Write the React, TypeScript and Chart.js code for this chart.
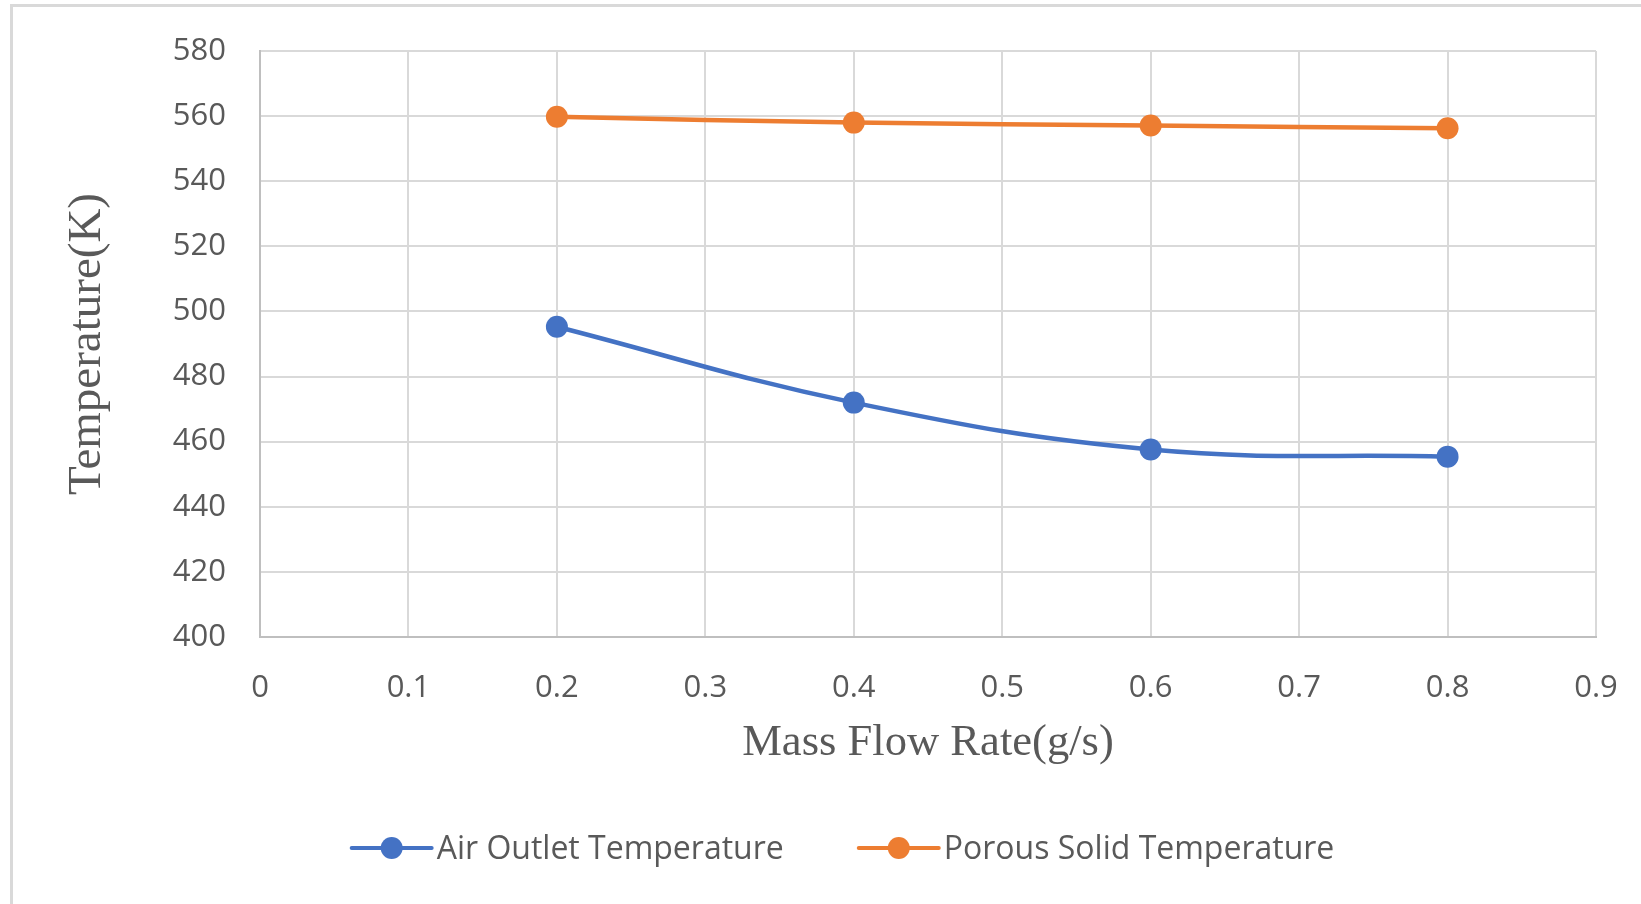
import React, { useEffect, useRef } from "react";
import { Chart, registerables } from "chart.js";

Chart.register(...registerables);

// ---- data ----
const massFlow = [0.2, 0.4, 0.6, 0.8];
const airOutlet = [495.3, 472.0, 457.6, 455.4];
const porousSolid = [559.8, 558.0, 557.1, 556.3];
const xTicks = [0, 0.1, 0.2, 0.3, 0.4, 0.5, 0.6, 0.7, 0.8, 0.9];
const yTicks = [400, 420, 440, 460, 480, 500, 520, 540, 560, 580];
const seriesNames = ["Air Outlet Temperature", "Porous Solid Temperature"];
const seriesColors = ["#4472C4", "#ED7D31"];
const xTitle = "Mass Flow Rate(g/s)";
const yTitle = "Temperature(K)";

const W = 1641;
const H = 904;
const TEXT = "#595959";
const GRID = "#d9d9d9";
const SANS = "'Open Sans'";
const SERIF = "'Liberation Serif'";

const legendPlugin = {
  id: "excelLegend",
  afterDraw(chart: any) {
    const ctx = chart.ctx as CanvasRenderingContext2D;
    const ds = chart.data.datasets;
    ctx.save();
    ctx.font = `32px ${SANS}`;
    const lineLen = 80;
    const gapText = 5;
    const gapItems = 75;
    const widths = ds.map((d: any) => ctx.measureText(d.label).width);
    const total =
      widths.reduce((a: number, w: number) => a + lineLen + gapText + w, 0) +
      gapItems * (ds.length - 1);
    let x = 843 - total / 2;
    const y = 848;
    ds.forEach((d: any, i: number) => {
      ctx.strokeStyle = d.borderColor;
      ctx.lineWidth = 4;
      ctx.lineCap = "round";
      ctx.beginPath();
      ctx.moveTo(x, y);
      ctx.lineTo(x + lineLen, y);
      ctx.stroke();
      ctx.fillStyle = d.pointBackgroundColor;
      ctx.beginPath();
      ctx.arc(x + lineLen / 2, y, 11, 0, Math.PI * 2);
      ctx.fill();
      ctx.fillStyle = TEXT;
      ctx.textBaseline = "middle";
      ctx.textAlign = "left";
      ctx.fillText(d.label, x + lineLen + gapText, y + 2);
      x += lineLen + gapText + widths[i] + gapItems;
    });
    ctx.restore();
  },
};

export default function App() {
  const ref = useRef<HTMLCanvasElement | null>(null);

  useEffect(() => {
    if (!ref.current) return;
    const series = [airOutlet, porousSolid];
    const chart = new Chart(ref.current, {
      type: "line",
      data: {
        datasets: series.map((vals, i) => ({
          label: seriesNames[i],
          data: massFlow.map((x, j) => ({ x, y: vals[j] })),
          borderColor: seriesColors[i],
          backgroundColor: seriesColors[i],
          pointBackgroundColor: seriesColors[i],
          pointBorderColor: seriesColors[i],
          pointBorderWidth: 0,
          pointRadius: 11,
          borderWidth: 4.5,
          tension: 0.4,
          fill: false,
        })),
      },
      options: {
        animation: false,
        responsive: false,
        devicePixelRatio: 1,
        layout: { padding: { top: 51, right: 45, left: 0, bottom: 0 } },
        plugins: { legend: { display: false }, tooltip: { enabled: false } },
        scales: {
          x: {
            type: "linear",
            min: 0,
            max: 0.9,
            afterBuildTicks: (s: any) => {
              s.ticks = xTicks.map((v) => ({ value: v }));
            },
            afterFit: (s: any) => {
              s.height = 267;
              s.paddingLeft = 0;
              s.paddingRight = 0;
            },
            grid: { color: GRID, lineWidth: 2, drawTicks: false },
            border: { color: "#bfbfbf", width: 2 },
            ticks: {
              padding: 33,
              color: TEXT,
              font: { family: SANS, size: 31 },
              callback: (v: any) => String(v),
              maxRotation: 0,
              autoSkip: false,
            },
            title: {
              display: true,
              text: xTitle,
              color: TEXT,
              font: { family: SERIF, size: 44.6 },
              padding: { top: 0, bottom: 134 },
            },
          },
          y: {
            type: "linear",
            min: 400,
            max: 580,
            afterBuildTicks: (s: any) => {
              s.ticks = yTicks.map((v) => ({ value: v }));
            },
            afterFit: (s: any) => {
              s.width = 260;
              s.paddingTop = 0;
              s.paddingBottom = 0;
            },
            grid: { color: GRID, lineWidth: 2, drawTicks: false },
            border: { color: "#bfbfbf", width: 2 },
            ticks: {
              padding: 34,
              color: TEXT,
              font: { family: SANS, size: 31 },
              callback: (v: any) => String(v),
              autoSkip: false,
            },
            title: {
              display: true,
              text: yTitle,
              color: TEXT,
              font: { family: SERIF, size: 47 },
              padding: { top: 59, bottom: 0 },
            },
          },
        },
      },
      plugins: [legendPlugin],
    });
    return () => chart.destroy();
  }, []);

  return (
    <div
      style={{
        position: "absolute",
        left: 0,
        top: 0,
        width: W,
        height: H,
        overflow: "hidden",
        background: "#fff",
      }}
    >
      <div
        style={{
          position: "absolute",
          left: 10,
          top: 4,
          width: 2000,
          height: 2000,
          border: `3px solid ${GRID}`,
        }}
      />
      <canvas
        ref={ref}
        width={W}
        height={H}
        style={{ position: "absolute", left: 0, top: 0, width: W, height: H }}
      />
    </div>
  );
}
